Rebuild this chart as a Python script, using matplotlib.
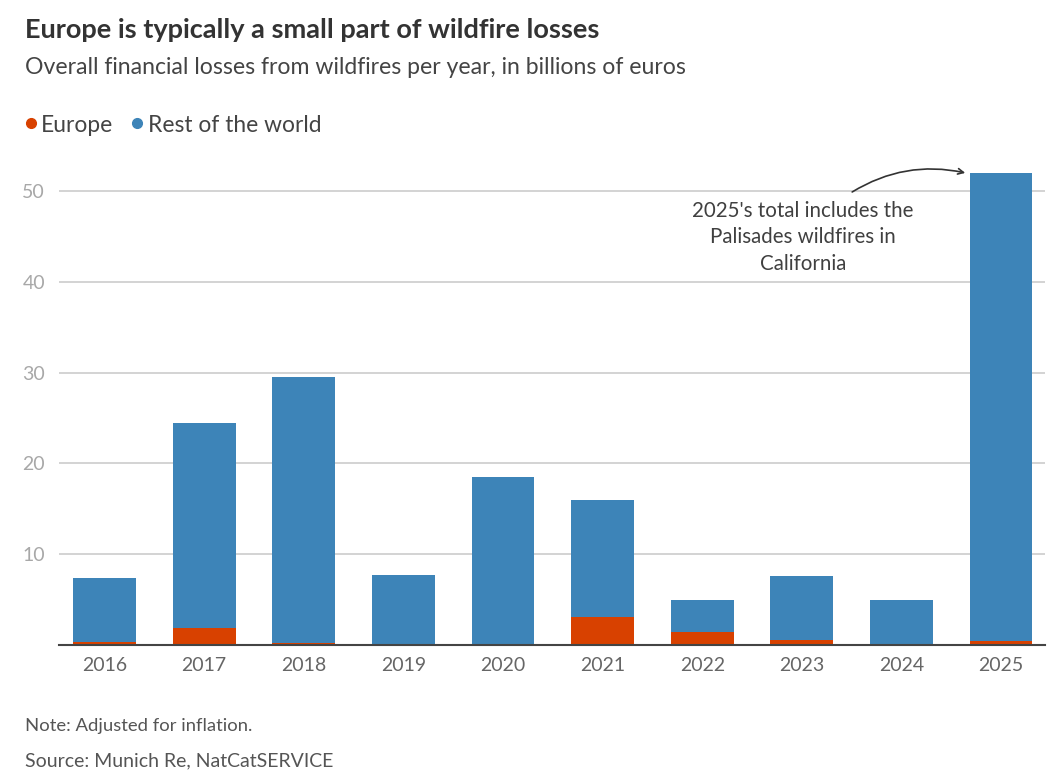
import matplotlib
matplotlib.use('Agg')
import matplotlib.pyplot as plt
from matplotlib.lines import Line2D
import numpy as np

# Data (billions of euros)
years = ['2016', '2017', '2018', '2019', '2020', '2021', '2022', '2023', '2024', '2025']
totals = [7.4, 24.4, 29.5, 7.7, 18.5, 16.0, 5.0, 7.6, 5.0, 52.0]
europe = [0.35, 1.9, 0.2, 0.0, 0.12, 3.1, 1.45, 0.6, 0.0, 0.45]
rest_of_world = [t - e for t, e in zip(totals, europe)]
y_ticks = [10, 20, 30, 40, 50]

EU_COLOR = '#d84100'
ROW_COLOR = '#3d84b8'

plt.rcParams['font.family'] = ['Lato', 'DejaVu Sans']

fig = plt.figure(figsize=(10.52, 7.82), dpi=100)
ax = fig.add_axes([0.0561, 0.1752, 0.9372, 0.6153])

x = np.arange(len(years))
ax.bar(x, europe, width=0.63, color=EU_COLOR, zorder=3)
ax.bar(x, rest_of_world, width=0.63, bottom=europe, color=ROW_COLOR, zorder=3)

ax.set_xlim(-0.457, 9.44)
ax.set_ylim(0, 53)
ax.set_yticks(y_ticks)
ax.set_xticks(x)
ax.set_xticklabels(years)
ax.grid(axis='y', color='#cccccc', linewidth=1.2, zorder=0)
for s in ['top', 'right', 'left']:
    ax.spines[s].set_visible(False)
ax.spines['bottom'].set_color('#444444')
ax.spines['bottom'].set_linewidth(1.5)
ax.spines['bottom'].set_zorder(4)
ax.tick_params(axis='y', length=0, pad=10, labelsize=14, labelcolor='#a8a8a8')
ax.tick_params(axis='x', length=0, pad=9, labelsize=14, labelcolor='#666666')

# annotation
ax.text(7.01, 48.9, "2025's total includes the\nPalisades wildfires in\nCalifornia",
        ha='center', va='top', fontsize=14.8, color='#404040', linespacing=1.4)
ax.annotate('', xy=(8.64, 52.0), xytext=(7.505, 49.9),
            arrowprops=dict(arrowstyle='->', color='#333333', lw=1.2,
                            connectionstyle='arc3,rad=-0.2', shrinkA=0, shrinkB=0))

# titles
fig.text(0.0238, 0.962, 'Europe is typically a small part of wildfire losses',
         fontsize=19.5, fontweight='bold', color='#333333', va='center')
fig.text(0.0238, 0.914, 'Overall financial losses from wildfires per year, in billions of euros',
         fontsize=16.6, color='#444444', va='center')

# legend
leg_y = 0.840
fig.add_artist(Line2D([0.0295], [leg_y + 0.003], marker='o', markersize=7,
                      color=EU_COLOR, transform=fig.transFigure, linestyle='none'))
fig.text(0.039, leg_y, 'Europe', fontsize=16.4, color='#444444', va='center')
fig.add_artist(Line2D([0.1305], [leg_y + 0.003], marker='o', markersize=7,
                      color=ROW_COLOR, transform=fig.transFigure, linestyle='none'))
fig.text(0.1405, leg_y, 'Rest of the world', fontsize=16.4, color='#444444', va='center')

# footer
fig.text(0.0238, 0.071, 'Note: Adjusted for inflation.', fontsize=13.3, color='#555555', va='center')
fig.text(0.0238, 0.027, 'Source: Munich Re, NatCatSERVICE', fontsize=14, color='#555555', va='center')

fig.savefig('out.png', dpi=100)
